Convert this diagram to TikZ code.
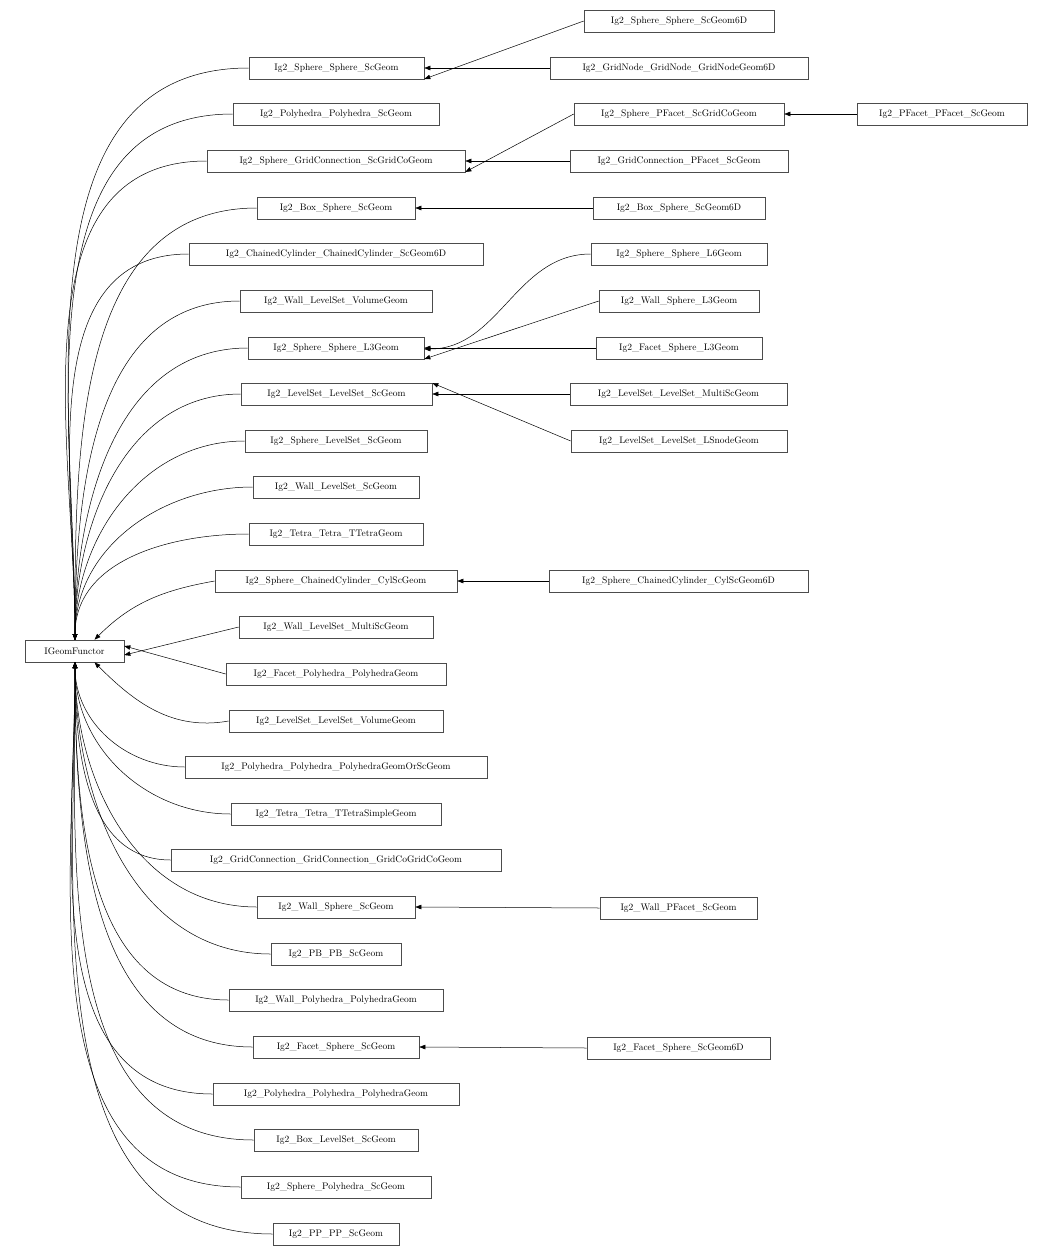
\documentclass[tikz,border=0pt]{standalone}
\usetikzlibrary{arrows.meta}
\begin{document}
\begin{tikzpicture}[x=1pt,y=-1pt,
 box/.style={draw=black!70,line width=0.6pt,minimum height=22pt,inner sep=0pt,font=\fontsize{9.5}{11}\selectfont},
 edge/.style={line width=0.5pt,-{Triangle[length=6pt,width=4.5pt]}}]
\useasboundingbox (0,0) rectangle (1052,1256);
\newcommand{\bx}[5]{\node[box,minimum width={#4-#3}] (#1) at ({(#3+#4)/2},#5) {#2};}
\bx{g}{IGeomFunctor}{25}{124}{651}
\coordinate (gt) at (75,640);
\coordinate (gb) at (75,662);
% column 2
\bx{a1}{Ig2\_Sphere\_Sphere\_ScGeom}{249}{424}{68}
\bx{a2}{Ig2\_Polyhedra\_Polyhedra\_ScGeom}{233}{439}{114}
\bx{a3}{Ig2\_Sphere\_GridConnection\_ScGridCoGeom}{207}{465}{161}
\bx{a4}{Ig2\_Box\_Sphere\_ScGeom}{257}{415}{208}
\bx{a5}{Ig2\_ChainedCylinder\_ChainedCylinder\_ScGeom6D}{189}{483}{254}
\bx{a6}{Ig2\_Wall\_LevelSet\_VolumeGeom}{240}{432}{301}
\bx{a7}{Ig2\_Sphere\_Sphere\_L3Geom}{248}{424}{348}
\bx{a8}{Ig2\_LevelSet\_LevelSet\_ScGeom}{241}{432}{394}
\bx{a9}{Ig2\_Sphere\_LevelSet\_ScGeom}{245}{427}{441}
\bx{a10}{Ig2\_Wall\_LevelSet\_ScGeom}{253}{419}{487}
\bx{a11}{Ig2\_Tetra\_Tetra\_TTetraGeom}{249}{423}{534}
\bx{a12}{Ig2\_Sphere\_ChainedCylinder\_CylScGeom}{215}{457}{581}
\bx{a13}{Ig2\_Wall\_LevelSet\_MultiScGeom}{239}{433}{627}
\bx{a14}{Ig2\_Facet\_Polyhedra\_PolyhedraGeom}{226}{446}{674}
\bx{a15}{Ig2\_LevelSet\_LevelSet\_VolumeGeom}{229}{443}{721}
\bx{a16}{Ig2\_Polyhedra\_Polyhedra\_PolyhedraGeomOrScGeom}{185}{487}{767}
\bx{a17}{Ig2\_Tetra\_Tetra\_TTetraSimpleGeom}{231}{441}{814}
\bx{a18}{Ig2\_GridConnection\_GridConnection\_GridCoGridCoGeom}{171}{501}{860}
\bx{a19}{Ig2\_Wall\_Sphere\_ScGeom}{257}{415}{907}
\bx{a20}{Ig2\_PB\_PB\_ScGeom}{271}{401}{954}
\bx{a21}{Ig2\_Wall\_Polyhedra\_PolyhedraGeom}{229}{443}{1000}
\bx{a22}{Ig2\_Facet\_Sphere\_ScGeom}{253}{419}{1047}
\bx{a23}{Ig2\_Polyhedra\_Polyhedra\_PolyhedraGeom}{213}{459}{1094}
\bx{a24}{Ig2\_Box\_LevelSet\_ScGeom}{254}{418}{1140}
\bx{a25}{Ig2\_Sphere\_Polyhedra\_ScGeom}{241}{431}{1187}
\bx{a26}{Ig2\_PP\_PP\_ScGeom}{273}{399}{1234}
% column 3
\bx{b1}{Ig2\_Sphere\_Sphere\_ScGeom6D}{584}{774}{21}
\bx{b2}{Ig2\_GridNode\_GridNode\_GridNodeGeom6D}{550}{808}{68}
\bx{b3}{Ig2\_Sphere\_PFacet\_ScGridCoGeom}{574}{784}{114}
\bx{b4}{Ig2\_PFacet\_PFacet\_ScGeom}{857}{1027}{114}
\bx{b5}{Ig2\_GridConnection\_PFacet\_ScGeom}{570}{788}{161}
\bx{b6}{Ig2\_Box\_Sphere\_ScGeom6D}{593}{765}{208}
\bx{b7}{Ig2\_Sphere\_Sphere\_L6Geom}{591}{767}{254}
\bx{b8}{Ig2\_Wall\_Sphere\_L3Geom}{599}{759}{301}
\bx{b9}{Ig2\_Facet\_Sphere\_L3Geom}{596}{762}{348}
\bx{b10}{Ig2\_LevelSet\_LevelSet\_MultiScGeom}{570}{787}{394}
\bx{b11}{Ig2\_LevelSet\_LevelSet\_LSnodeGeom}{571}{787}{441}
\bx{b12}{Ig2\_Sphere\_ChainedCylinder\_CylScGeom6D}{549}{808}{581}
\bx{b13}{Ig2\_Wall\_PFacet\_ScGeom}{600}{757}{908}
\bx{b14}{Ig2\_Facet\_Sphere\_ScGeom6D}{587}{770}{1048}
% edges to IGeomFunctor
\foreach \n in {a1,a2,a3,a4,a5,a6,a7,a8,a9,a10,a11}
  \draw[edge] (\n.west) to[out=180,in=90] (gt);
\draw[edge] (a12.west) to[out=190,in=45] ([xshift=20]g.north);
\draw[edge] (a13.west) -- ([yshift=-4]g.east);
\draw[edge] (a14.west) -- ([yshift=5]g.east);
\draw[edge] (a15.west) to[out=190,in=-45] ([xshift=20]g.south);
\foreach \n in {a16,a17,a18,a19,a20,a21,a22,a23,a24,a25,a26}
  \draw[edge] (\n.west) to[out=180,in=-90] (gb);
% column 3 edges
\draw[edge] (b1.west) -- ([yshift=-11]a1.east);
\draw[edge] (b2.west) -- (a1.east);
\draw[edge] (b3.west) -- ([yshift=-11]a3.east);
\draw[edge] (b5.west) -- (a3.east);
\draw[edge] (b4.west) -- (b3.east);
\draw[edge] (b6.west) -- (a4.east);
\draw[edge] (b7.west) to[out=180,in=0] ([yshift=-1]a7.east);
\draw[edge] (b8.west) -- ([yshift=-11]a7.east);
\draw[edge] (b9.west) -- (a7.east);
\draw[edge] (b10.west) -- (a8.east);
\draw[edge] (b11.west) -- ([yshift=11]a8.east);
\draw[edge] (b12.west) -- (a12.east);
\draw[edge] (b13.west) -- (a19.east);
\draw[edge] (b14.west) -- (a22.east);
\end{tikzpicture}
\end{document}
